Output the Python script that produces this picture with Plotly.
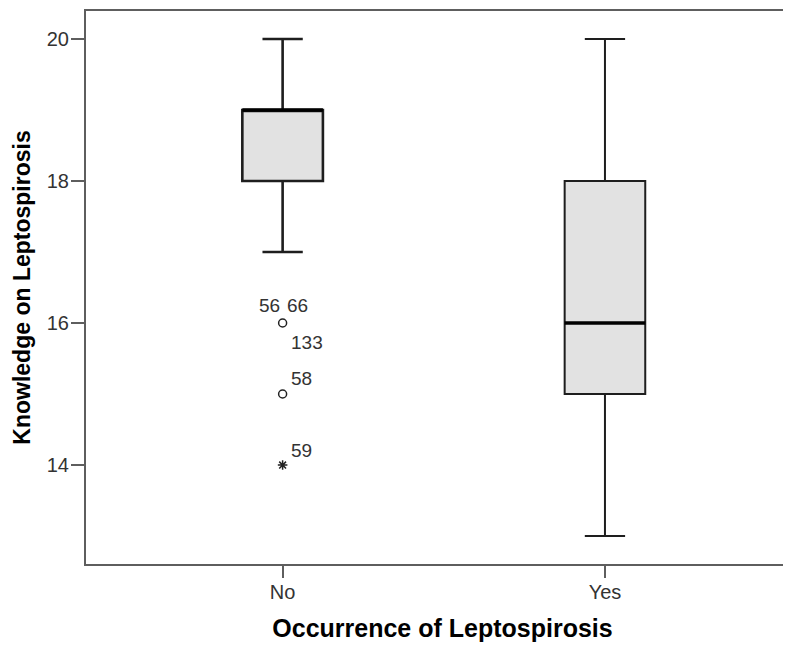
import plotly.graph_objects as go

# ---- data ----
categories = ["No", "Yes"]
cat_pos = [0, 1]
q1 = [18, 15]
median = [19, 16]
q3 = [19, 18]
lower_whisker = [17, 13]
upper_whisker = [20, 20]

# outliers (only for "No")
outlier_values = [16, 15, 14]
outlier_symbols = ["circle-open", "circle-open", "asterisk-open"]
outlier_labels = [["56", "66", "133"], ["58"], ["59"]]

y_ticks = [14, 16, 18, 20]

BOX_W = 0.25
FONT = "Liberation Sans, Arial, sans-serif"
box_line_widths = [2.6, 2.0]

fig = go.Figure()

for i, c in enumerate(categories):
    fig.add_trace(go.Box(
        x=[cat_pos[i]], q1=[q1[i]], median=[median[i]], q3=[q3[i]],
        lowerfence=[lower_whisker[i]], upperfence=[upper_whisker[i]],
        width=BOX_W, whiskerwidth=0.5,
        fillcolor="#e2e2e2", line=dict(color="#1e1e1e", width=box_line_widths[i]),
        boxpoints=False, showlegend=False, hoverinfo="skip",
    ))
    # thick median line
    fig.add_trace(go.Scatter(
        x=[cat_pos[i] - BOX_W / 2, cat_pos[i] + BOX_W / 2],
        y=[median[i], median[i]], mode="lines",
        line=dict(color="black", width=3.5), showlegend=False, hoverinfo="skip",
    ))

# outliers
fig.add_trace(go.Scatter(
    x=[cat_pos[0]] * len(outlier_values), y=outlier_values, mode="markers",
    marker=dict(symbol=outlier_symbols, size=8, color="#222",
                line=dict(color="#222", width=1.5)),
    showlegend=False, hoverinfo="skip",
))

# outlier labels (SPSS-style placement: pixel offsets from the point)
label_font = dict(family=FONT, size=19, color="#333")
placements = [
    [(-1, 18, "right"), (2, 18, "left"), (6, -19, "left")],
    [(6, 16, "left")],
    [(6, 15, "left")],
]
for val, labs, pls in zip(outlier_values, outlier_labels, placements):
    for lab, (dx, dy, anchor) in zip(labs, pls):
        fig.add_annotation(
            x=cat_pos[0], y=val, text=lab, showarrow=False,
            xanchor=anchor, yanchor="middle", xshift=dx, yshift=dy,
            font=label_font,
        )

fig.update_layout(
    width=791, height=646,
    margin=dict(l=78, r=0, t=3, b=90),
    paper_bgcolor="white", plot_bgcolor="white",
    font=dict(family=FONT, color="#333"),
)
fig.update_xaxes(
    range=[-0.61, 1.602], tickvals=cat_pos, ticktext=categories,
    showgrid=False, zeroline=False,
    showline=True, linecolor="#5e5e5e", linewidth=2, mirror=True,
    ticks="outside", ticklen=12, tickwidth=1.5, tickcolor="#5e5e5e",
    ticklabelstandoff=-3,
    tickfont=dict(family=FONT, size=20, color="#333"),
    title=dict(text="<b>Occurrence of Leptospirosis</b>",
               font=dict(family=FONT, size=25, color="black"), standoff=17),
)
fig.update_yaxes(
    range=[12.606, 20.394], tickvals=y_ticks,
    showgrid=False, zeroline=False,
    showline=True, linecolor="#5e5e5e", linewidth=2, mirror=False,
    ticks="outside", ticklen=13, tickwidth=1.5, tickcolor="#5e5e5e",
    ticklabelstandoff=-2,
    tickfont=dict(family=FONT, size=20, color="#333"),
    title=dict(text="<b>Knowledge on Leptospirosis</b>",
               font=dict(family=FONT, size=23, color="black"), standoff=10),
)

fig.write_html("out.html")
